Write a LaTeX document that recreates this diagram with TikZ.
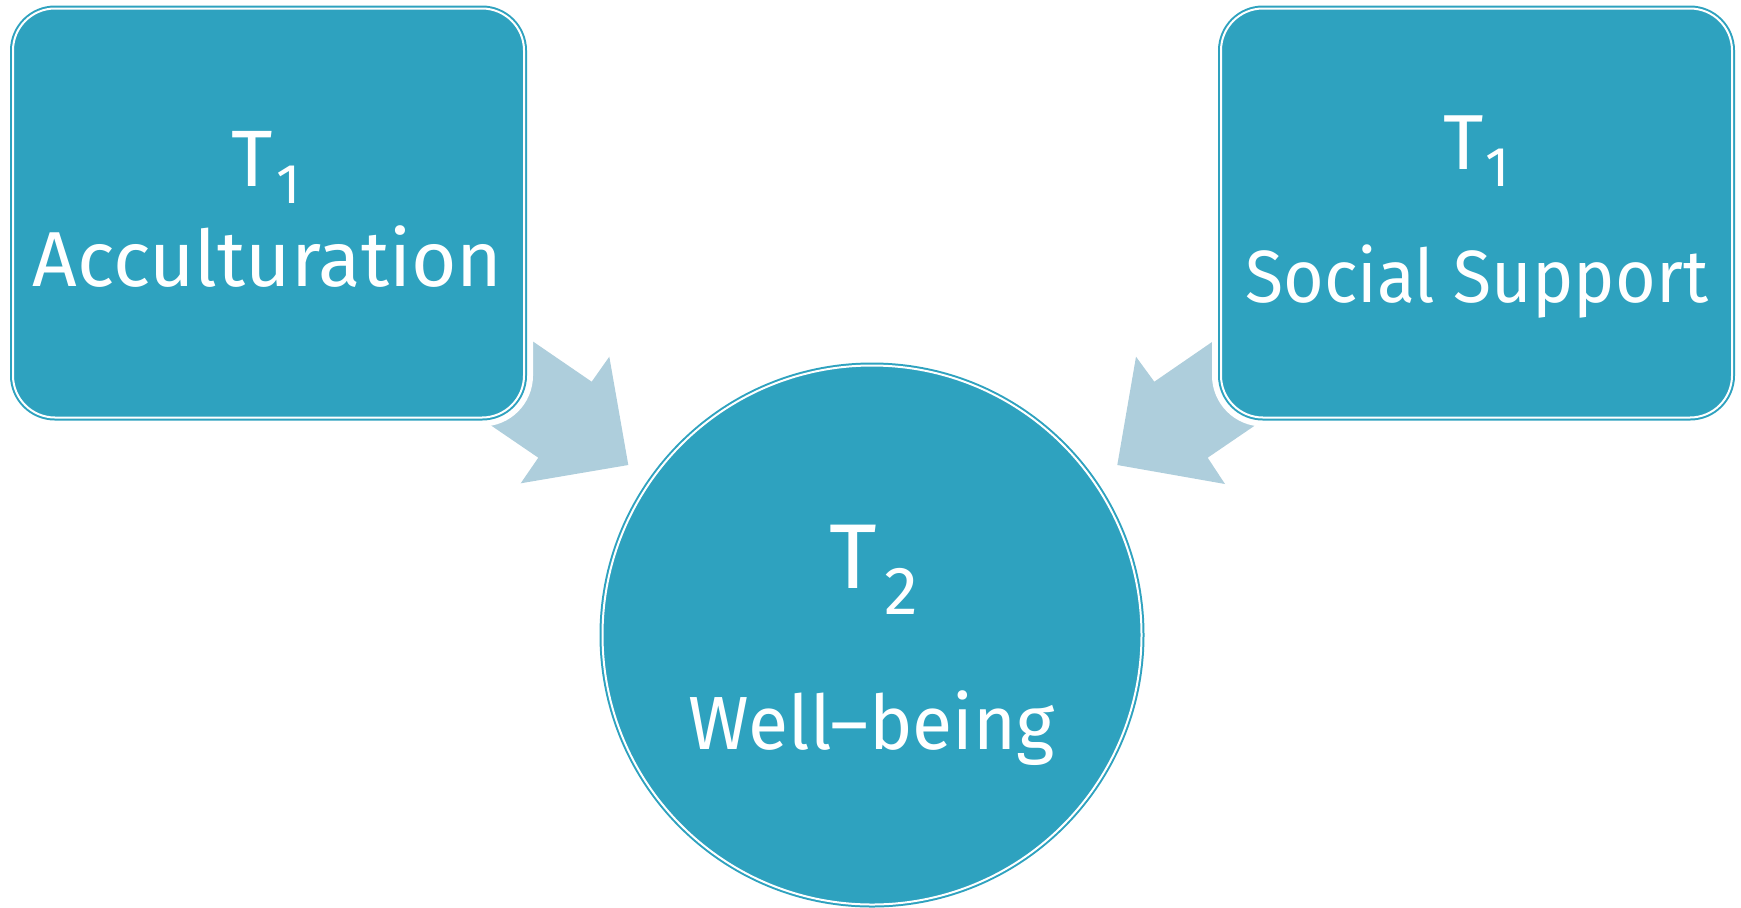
\documentclass[tikz,border=0pt]{standalone}
\usepackage{fontspec}
\setmainfont{Fira Sans}
\definecolor{teal1}{RGB}{46,162,191}
\definecolor{arrowblue}{RGB}{174,206,220}
\tikzset{
  boxstyle/.style={rectangle, rounded corners=21pt, minimum width=255.5pt, minimum height=204.5pt,
    fill=teal1, draw=teal1, line width=1pt, double=white, double distance=1pt,
    preaction={draw=white, line width=9pt}, inner sep=0pt},
  circstyle/.style={circle, minimum size=269.5pt, fill=teal1, draw=teal1, line width=1pt,
    double=white, double distance=1pt, inner sep=0pt},
  lbl/.style={text=white, anchor=base, inner sep=0pt},
  bigarrow/.style={fill=arrowblue, draw=none}
}
\begin{document}
\begin{tikzpicture}[x=0.5pt,y=-0.5pt]
\useasboundingbox (0,0) rectangle (1741,907);
% block arrows
\fill[bigarrow] (500.3,319.1) -- (591.7,381.7) -- (609.3,356.7) -- (628.3,465) -- (520.7,483.3) -- (538.3,457.7) -- (458.7,403.4) -- cycle;
\fill[bigarrow] (1245.3,319.1) -- (1154.3,381.7) -- (1136,356.7) -- (1117.3,465) -- (1225,484) -- (1207.7,457.7) -- (1287.3,403.4) -- cycle;
% boxes
\node[boxstyle] (acc) at (268.5,213) {};
\node[boxstyle] (soc) at (1476.5,213) {};
\node[circstyle] (wb) at (872,635) {};
% texts
\node[lbl, font=\fontsize{40pt}{48pt}\selectfont] (accT) at (252,186.5) {T};
\node[lbl, font=\fontsize{28pt}{34pt}\selectfont] (accS) at (288.5,203) {1};
\node[lbl, font=\fontsize{39pt}{47pt}\selectfont] (accL) at (267.5,286.5) {Acculturation};
\node[lbl, font=\fontsize{39pt}{47pt}\selectfont] (socT) at (1464,169) {T};
\node[lbl, font=\fontsize{28pt}{34pt}\selectfont] (socS) at (1498,186.5) {1};
\node[lbl, font=\fontsize{37pt}{44pt}\selectfont, xscale=0.943] (socL) at (1477,302) {Social Support};
\node[lbl, font=\fontsize{46pt}{55pt}\selectfont] (wbT) at (853.5,588.5) {T};
\node[lbl, font=\fontsize{34pt}{41pt}\selectfont] (wbS) at (901.5,614) {2};
\node[lbl, font=\fontsize{37.7pt}{45pt}\selectfont, xscale=0.973] (wbL) at (871.5,749.5) {Well–being};
\end{tikzpicture}
\end{document}
